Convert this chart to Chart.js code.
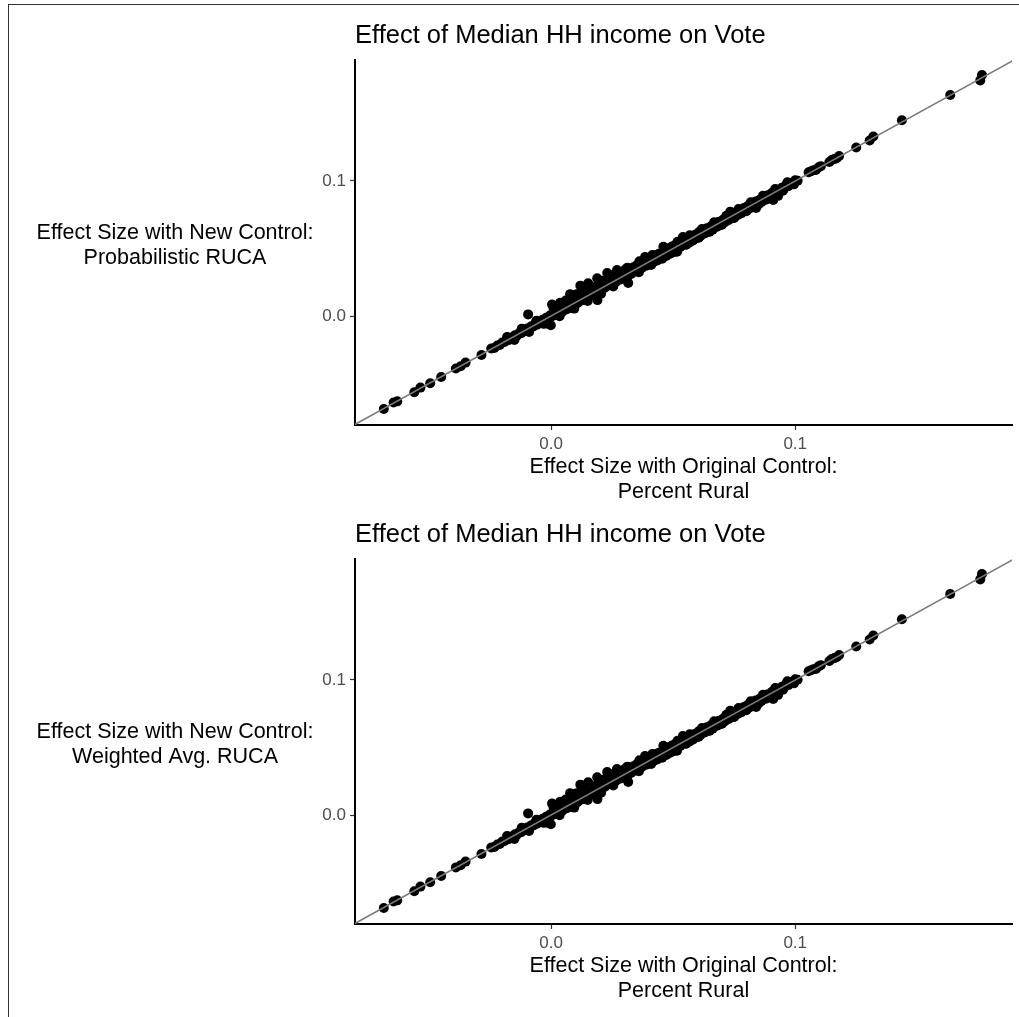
<!DOCTYPE html>
<html>
<head>
<meta charset="utf-8">
<script src="https://cdn.jsdelivr.net/npm/chart.js@4/dist/chart.umd.min.js"></script>
<style>
    html, body { margin: 0; padding: 0; background: #fff; }
    #page { position: relative; width: 1019px; height: 1017px; overflow: hidden; }
    #frame { position: absolute; left: 8px; top: 4px; width: 1100px; height: 1100px;
             border-top: 1px solid #333; border-left: 1px solid #333; }
    canvas { position: absolute; left: 0; }
    #chartTop { top: 0; }
    #chartBottom { top: 499px; }
</style>
</head>
<body>
<div id="page">
    <div id="frame"></div>
    <canvas id="chartTop" width="1019" height="500"></canvas>
    <canvas id="chartBottom" width="1019" height="500"></canvas>
</div>
<script>
// Effect sizes (x = original control, y = new control)
const effectOriginal = [
    -0.0685, -0.0645, -0.0630, -0.0560, -0.0535, -0.0495, -0.0450, -0.0390, -0.0370, -0.0350,
    -0.0285, -0.0245, -0.0232, -0.0220, -0.0210,
    -0.0200, -0.0190, -0.0180, -0.0172, -0.0165, -0.0155, -0.0148, -0.0140, -0.0130, -0.0122,
    -0.0115, -0.0105, -0.0098, -0.0094, -0.0090, -0.0080, -0.0072, -0.0065, -0.0058, -0.0050,
    -0.0042, -0.0035, -0.0028, -0.0020, -0.0018, -0.0012, -0.0005, -0.0001, 0.0000,
    0.0004, 0.0008, 0.0012, 0.0018, 0.0022, 0.0028, 0.0032, 0.0037, 0.0040, 0.0045,
    0.0050, 0.0055, 0.0060, 0.0065, 0.0070, 0.0075, 0.0078, 0.0082, 0.0088, 0.0092,
    0.0098, 0.0102, 0.0108, 0.0112, 0.0118, 0.0120, 0.0125, 0.0130, 0.0135, 0.0140,
    0.0145, 0.0150, 0.0152, 0.0158, 0.0162, 0.0168, 0.0172, 0.0178, 0.0182, 0.0189,
    0.0190, 0.0195, 0.0200, 0.0208, 0.0212, 0.0218, 0.0222, 0.0230, 0.0235, 0.0240,
    0.0248, 0.0252, 0.0260, 0.0265, 0.0270, 0.0275, 0.0282, 0.0288, 0.0295,
    0.0302, 0.0310, 0.0316, 0.0320, 0.0328, 0.0335, 0.0342, 0.0350, 0.0358, 0.0365,
    0.0372, 0.0380, 0.0385, 0.0390, 0.0398, 0.0405, 0.0412, 0.0420, 0.0428, 0.0435,
    0.0442, 0.0450, 0.0460, 0.0465, 0.0472, 0.0480, 0.0488, 0.0495, 0.0502, 0.0510,
    0.0516, 0.0522, 0.0530, 0.0540, 0.0545, 0.0552, 0.0560, 0.0568, 0.0575, 0.0582,
    0.0590, 0.0598,
    0.0605, 0.0612, 0.0620, 0.0630, 0.0638, 0.0645, 0.0655, 0.0662, 0.0670, 0.0680,
    0.0688, 0.0695, 0.0705, 0.0712, 0.0720, 0.0728, 0.0734, 0.0740, 0.0748, 0.0755,
    0.0765, 0.0772, 0.0780, 0.0790, 0.0798, 0.0805, 0.0815, 0.0822, 0.0830, 0.0838,
    0.0845, 0.0855, 0.0862, 0.0870, 0.0880, 0.0888, 0.0895, 0.0910, 0.0905, 0.0915,
    0.0925, 0.0935, 0.0945, 0.0955, 0.0962, 0.0972, 0.0980, 0.0990, 0.1000, 0.1010,
    0.1055, 0.1065, 0.1075, 0.1085, 0.1095, 0.1105, 0.1140, 0.1150, 0.1160, 0.1170,
    0.1180, 0.1250, 0.1305, 0.1320, 0.1437, 0.1635, 0.1758, 0.1765,
    // lower edge of the band
    0.0035, 0.0095, 0.0150, 0.0205, 0.0255, 0.0310, 0.0360, 0.0410, 0.0455, 0.0505,
    0.0555, 0.0605, 0.0650, 0.0700, 0.0750, 0.0800, 0.0850, 0.0900, 0.0950, 0.0995,
    // upper edge of the band
    0.0010, 0.0060, 0.0105, 0.0160, 0.0210, 0.0262, 0.0312, 0.0362, 0.0415, 0.0468,
    0.0518, 0.0568, 0.0618, 0.0668, 0.0718, 0.0768, 0.0818, 0.0868, 0.0918, 0.0968,
    -0.0180, -0.0120, -0.0060, -0.0150, -0.0090, -0.0030, 0.0840, 0.0930
];

const effectProbabilistic = [
    -0.0688, -0.0640, -0.0632, -0.0565, -0.0530, -0.0498, -0.0452, -0.0388, -0.0372, -0.0345,
    -0.0288, -0.0240, -0.0236, -0.0218, -0.0214,
    -0.0196, -0.0193, -0.0176, -0.0178, -0.0160, -0.0158, -0.0142, -0.0145, -0.0126, -0.0128,
    -0.0110, -0.0109, -0.0092, 0.0012, -0.0095, -0.0075, -0.0078, -0.0058, -0.0064, -0.0044,
    -0.0048, -0.0028, -0.0034, -0.0012, -0.0055, -0.0018, 0.0004, -0.0068, -0.0006,
    0.0085, 0.0016, 0.0005, 0.0028, 0.0014, 0.0040, 0.0022, 0.0098, 0.0052, 0.0030,
    0.0062, 0.0045, 0.0072, 0.0050, 0.0082, 0.0060, 0.0162, 0.0095, 0.0070, 0.0110,
    0.0088, 0.0125, 0.0095, 0.0140, 0.0110, 0.0225, 0.0150, 0.0118, 0.0165, 0.0130,
    0.0180, 0.0140, 0.0242, 0.0190, 0.0150, 0.0205, 0.0162, 0.0215, 0.0172, 0.0280,
    0.0118, 0.0225, 0.0190, 0.0240, 0.0200, 0.0262, 0.0212, 0.0318, 0.0270, 0.0228,
    0.0290, 0.0240, 0.0300, 0.0252, 0.0340, 0.0318, 0.0268, 0.0325, 0.0280,
    0.0340, 0.0295, 0.0244, 0.0350, 0.0312, 0.0360, 0.0328, 0.0375, 0.0340, 0.0392,
    0.0355, 0.0405, 0.0437, 0.0372, 0.0420, 0.0385, 0.0435, 0.0400, 0.0450, 0.0412,
    0.0462, 0.0428, 0.0513, 0.0478, 0.0445, 0.0500, 0.0462, 0.0515, 0.0478, 0.0528,
    0.0476, 0.0540, 0.0512, 0.0585, 0.0555, 0.0528, 0.0575, 0.0545, 0.0590, 0.0560,
    0.0602, 0.0578,
    0.0620, 0.0592, 0.0632, 0.0612, 0.0650, 0.0625, 0.0665, 0.0640, 0.0682, 0.0662,
    0.0698, 0.0675, 0.0715, 0.0695, 0.0732, 0.0712, 0.0773, 0.0748, 0.0728, 0.0765,
    0.0748, 0.0782, 0.0762, 0.0800, 0.0780, 0.0815, 0.0798, 0.0832, 0.0812, 0.0848,
    0.0828, 0.0862, 0.0845, 0.0878, 0.0862, 0.0895, 0.0880, 0.0860, 0.0912, 0.0900,
    0.0930, 0.0922, 0.0950, 0.0945, 0.0968, 0.0962, 0.0985, 0.0982, 0.1005, 0.1002,
    0.1065, 0.1072, 0.1080, 0.1082, 0.1100, 0.1110, 0.1140, 0.1155, 0.1162, 0.1168,
    0.1185, 0.1248, 0.1300, 0.1330, 0.1450, 0.1637, 0.1745, 0.1785,
    -0.0002, 0.0055, 0.0112, 0.0165, 0.0218, 0.0272, 0.0325, 0.0378, 0.0425, 0.0475,
    0.0530, 0.0580, 0.0625, 0.0676, 0.0726, 0.0776, 0.0826, 0.0876, 0.0928, 0.0975,
    0.0060, 0.0115, 0.0162, 0.0215, 0.0262, 0.0312, 0.0358, 0.0405, 0.0452, 0.0502,
    0.0550, 0.0598, 0.0645, 0.0694, 0.0742, 0.0792, 0.0842, 0.0890, 0.0940, 0.0990,
    -0.0155, -0.0095, -0.0035, -0.0178, -0.0118, -0.0058, 0.0800, 0.0890
];

// the weighted-average panel shows the same scatter
const effectWeighted = effectProbabilistic.slice();

const tickValues = [0.0, 0.1];
const diagonal = [-0.1, 0.2];   // y = x reference line

const FONT = "'Liberation Sans', Arial, Helvetica, sans-serif";

// Draw plot title and the multi-line axis titles (y title is horizontal like ggplot)
const textPlugin = {
    id: 'ggText',
    afterDraw(chart, args, opts) {
        const ctx = chart.ctx;
        const area = chart.chartArea;
        ctx.save();
        ctx.fillStyle = '#000';
        ctx.textBaseline = 'alphabetic';

        ctx.font = '25.5px ' + FONT;
        ctx.textAlign = 'left';
        ctx.fillText(opts.title, area.left, 43);

        ctx.font = '21.5px ' + FONT;
        ctx.textAlign = 'center';
        opts.yTitle.forEach((line, i) => ctx.fillText(line, 175, 239 + i * 25));
        const cx = (area.left + area.right) / 2;
        opts.xTitle.forEach((line, i) => ctx.fillText(line, cx, 473 + i * 24.5));
        ctx.restore();
    }
};

function buildScale(min, max, isX) {
    return {
        type: 'linear',
        min: min,
        max: max,
        afterBuildTicks: function(scale) {
            scale.ticks = tickValues.map(v => ({ value: v }));
        },
        afterFit: function(scale) {
            if (isX) {
                scale.height = 75;
            } else {
                scale.width = 355;
            }
        },
        ticks: {
            callback: function(value) { return value.toFixed(1); },
            color: '#4d4d4d',
            font: { family: FONT, size: 17 },
            padding: 4,
            autoSkip: false,
            maxRotation: 0
        },
        grid: {
            drawOnChartArea: false,
            drawTicks: true,
            tickLength: 5,
            tickWidth: 1.2,
            color: '#333'
        },
        border: { color: '#000', width: 2 }
    };
}

function makeChart(canvasId, yValues, yTitle) {
    const ctx = document.getElementById(canvasId).getContext('2d');
    const points = effectOriginal.map((x, i) => ({ x: x, y: yValues[i] }));
    const line = diagonal.map(v => ({ x: v, y: v }));

    return new Chart(ctx, {
        type: 'scatter',
        data: {
            datasets: [
                {
                    type: 'line',
                    label: 'y = x',
                    data: line,
                    borderColor: '#7a7a7a',
                    borderWidth: 1.6,
                    pointRadius: 0,
                    fill: false,
                    order: 0
                },
                {
                    label: 'counties',
                    data: points,
                    backgroundColor: '#000',
                    borderWidth: 0,
                    pointRadius: 5,
                    order: 1
                }
            ]
        },
        options: {
            responsive: false,
            animation: false,
            layout: { padding: { top: 60, right: 7, bottom: 0, left: 0 } },
            plugins: {
                legend: { display: false },
                tooltip: { enabled: false },
                ggText: {
                    title: 'Effect of Median HH income on Vote',
                    yTitle: yTitle,
                    xTitle: ['Effect Size with Original Control:', 'Percent Rural']
                }
            },
            scales: {
                x: buildScale(-0.0803, 0.1888, true),
                y: buildScale(-0.0807, 0.1896, false)
            }
        },
        plugins: [textPlugin]
    });
}

makeChart('chartTop', effectProbabilistic, ['Effect Size with New Control:', 'Probabilistic RUCA']);
makeChart('chartBottom', effectWeighted, ['Effect Size with New Control:', 'Weighted Avg. RUCA']);
</script>
</body>
</html>
